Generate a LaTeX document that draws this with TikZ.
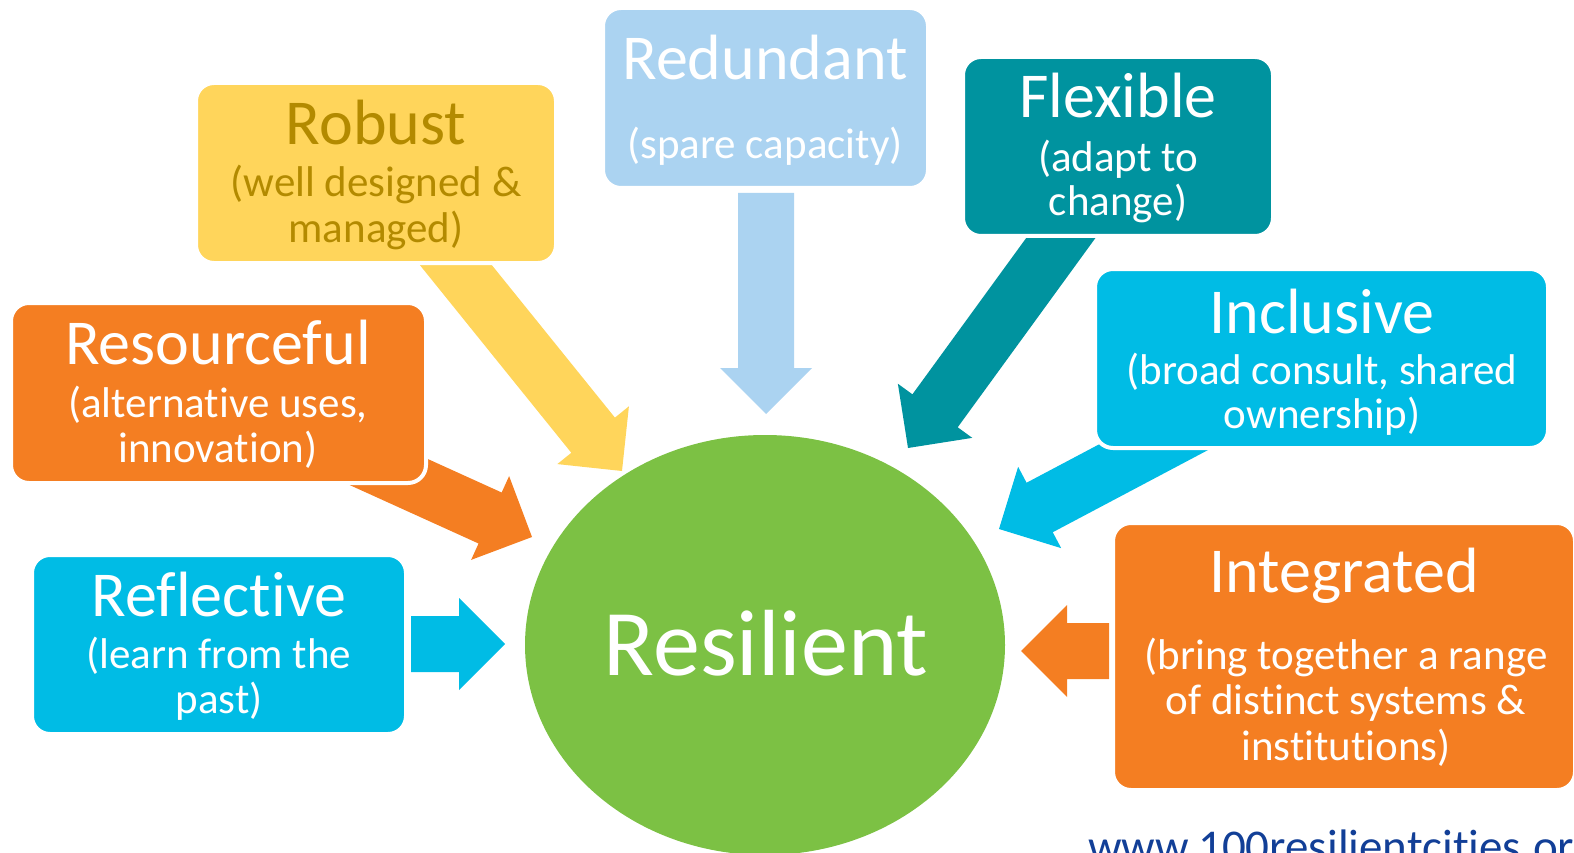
\documentclass[tikz,border=0pt]{standalone}
\usepackage{fontspec}
\setmainfont{Carlito}[Ligatures={NoCommon,NoRare,NoDiscretionary}]
\usetikzlibrary{calc,shapes.geometric}
\definecolor{cYellow}{HTML}{FFD55B}
\definecolor{cBlueL}{HTML}{ABD3F1}
\definecolor{cTeal}{HTML}{00939F}
\definecolor{cCyan}{HTML}{00BCE5}
\definecolor{cOrange}{HTML}{F47E22}
\definecolor{cGreen}{HTML}{7CC144}
\definecolor{cGold}{HTML}{B38A00}
\definecolor{cUrl}{HTML}{123F97}
\tikzset{
  box/.style={draw=white, line width=4pt, rounded corners=18pt, inner sep=0pt, outer sep=0pt},
  ttl/.style={anchor=base, inner sep=0pt, text=white, font=\fontsize{64}{64}\selectfont},
  sub/.style={anchor=base, inner sep=0pt, text=white, font=\fontsize{43}{45}\selectfont},
}
\newcommand\myblockarrow[3]{%
  \coordinate (#2-h) at ($(#3)!46pt!(#2)$);
  \fill[#1] (#3) -- ($(#2-h)!46pt!90:(#3)$) -- ($(#2-h)!28pt!90:(#3)$)
    -- ($(#2)!28pt!90:(#3)$) -- ($(#2)!28pt!-90:(#3)$)
    -- ($(#2-h)!28pt!-90:(#3)$) -- ($(#2-h)!46pt!-90:(#3)$) -- cycle;}
\begin{document}
\begin{tikzpicture}[x=1pt,y=-1pt]
\useasboundingbox (0,0) rectangle (1574,853);
\clip (0,0) rectangle (1574,853);
% arrows
\coordinate (refl-tail) at (411,644);  \coordinate (refl-tip) at (505,644);
\coordinate (reso-tail) at (349,454);  \coordinate (reso-tip) at (532,537);
\coordinate (robu-tail) at (434,238);  \coordinate (robu-tip) at (622,471);
\coordinate (redu-tail) at (766,193);  \coordinate (redu-tip) at (766,414);
\coordinate (flex-tail) at (1079,213); \coordinate (flex-tip) at (908,448);
\coordinate (incl-tail) at (1220,412); \coordinate (incl-tip) at (999,529);
\coordinate (inte-tail) at (1109,651); \coordinate (inte-tip) at (1021,651);
\myblockarrow{cCyan}{refl-tail}{refl-tip}
\myblockarrow{cOrange}{reso-tail}{reso-tip}
\myblockarrow{cYellow}{robu-tail}{robu-tip}
\myblockarrow{cBlueL}{redu-tail}{redu-tip}
\myblockarrow{cTeal}{flex-tail}{flex-tip}
\myblockarrow{cCyan}{incl-tail}{incl-tip}
\myblockarrow{cOrange}{inte-tail}{inte-tip}
% boxes
\node[box, fill=cYellow, minimum width=360pt, minimum height=180pt] (robust) at (376,173) {};
\node[box, fill=cBlueL, minimum width=325pt, minimum height=180pt] (redundant) at (765.5,98) {};
\node[box, fill=cTeal, minimum width=310pt, minimum height=179pt] (flexible) at (1118,146.5) {};
\node[box, fill=cCyan, minimum width=453pt, minimum height=179pt] (inclusive) at (1321.5,358.5) {};
\node[box, fill=cOrange, minimum width=415pt, minimum height=180pt] (resourceful) at (218.5,393) {};
\node[box, fill=cCyan, minimum width=374pt, minimum height=179pt] (reflective) at (219,644.5) {};
\node[box, fill=cOrange, minimum width=462pt, minimum height=267pt] (integrated) at (1344,656.5) {};
% circle
\node[ellipse, fill=cGreen, minimum width=480pt, minimum height=420pt, inner sep=0pt] (resilient) at (765,645) {};
% texts
\node[ttl, text=cGold] (robust-t) at (376,145) {Robust};
\node[sub, text=cGold] (robust-s1) at (376,197) {(well designed \&};
\node[sub, text=cGold] (robust-s2) at (376,242) {managed)};
\node[ttl] (redundant-t) at (765,80) {Redundant};
\node[sub] (redundant-s1) at (765,159) {(spare capacity)};
\node[ttl] (flexible-t) at (1118,118) {Flexible};
\node[sub] (flexible-s1) at (1118,172) {(adapt to};
\node[sub] (flexible-s2) at (1118,216) {change)};
\node[ttl] (inclusive-t) at (1322,333) {Inclusive};
\node[sub] (inclusive-s1) at (1322,384) {(broad consult, shared};
\node[sub] (inclusive-s2) at (1322,428) {ownership)};
\node[ttl] (resourceful-t) at (218,364) {Resourceful};
\node[sub] (resourceful-s1) at (218,417) {(alternative uses,};
\node[sub] (resourceful-s2) at (218,462) {innovation)};
\node[ttl] (reflective-t) at (219,616) {Reflective};
\node[sub] (reflective-s1) at (219,668) {(learn from the};
\node[sub] (reflective-s2) at (219,713) {past)};
\node[ttl] (integrated-t) at (1344,592) {Integrated};
\node[sub] (integrated-s1) at (1346,669) {(bring together a range};
\node[sub] (integrated-s2) at (1346,714) {of distinct systems \&};
\node[sub] (integrated-s3) at (1346,760) {institutions)};
\node[anchor=base, inner sep=0pt, text=white, font=\fontsize{94}{94}\selectfont] (resilient-t) at (766,675) {Resilient};
\node[anchor=base west, inner sep=0pt, text=cUrl, font=\fontsize{47}{47}\selectfont] (url) at (1088,862) {www.100resilientcities.org};
\end{tikzpicture}
\end{document}
